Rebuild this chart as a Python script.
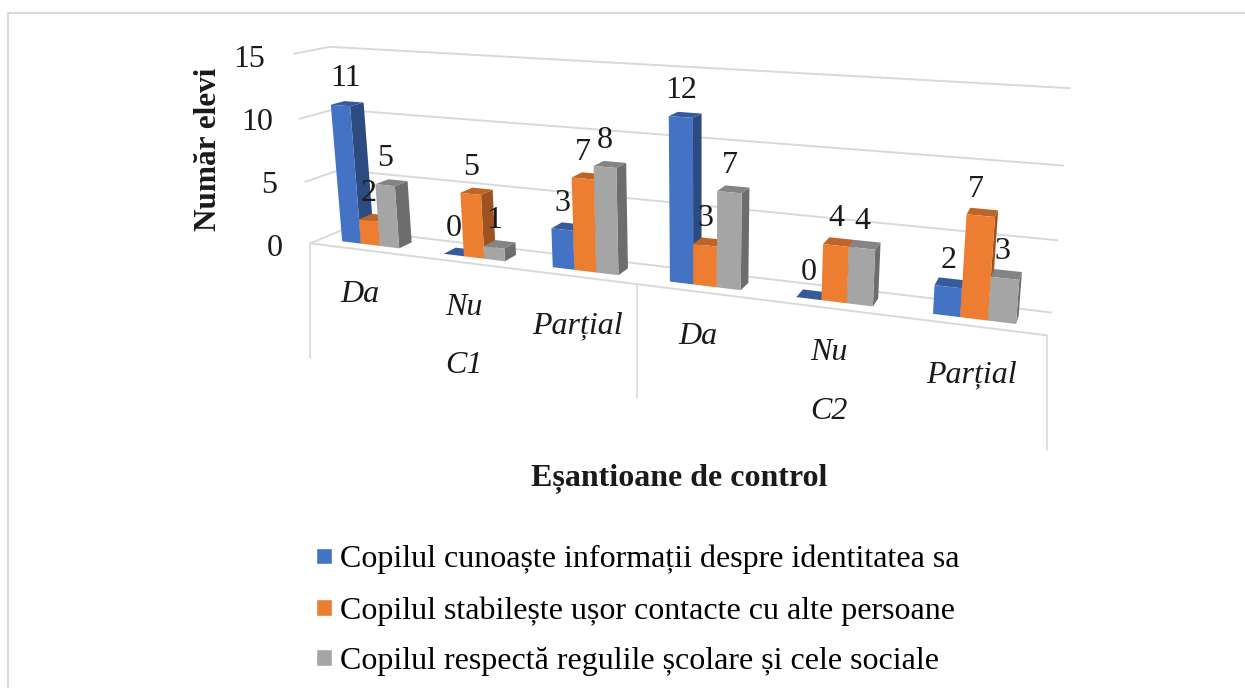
import numpy as np, pandas as pd, matplotlib
matplotlib.use("Agg")
import matplotlib.pyplot as plt, seaborn as sns
from matplotlib.transforms import Transform, IdentityTransform
from matplotlib.patches import Polygon, Rectangle
import matplotlib.colors as mc

W_PX, H_PX = 1245, 688
categories = ["C1 Da", "C1 Nu", "C1 Parțial", "C2 Da", "C2 Nu", "C2 Parțial"]
series_names = ["Copilul cunoaște informații despre identitatea sa",
                "Copilul stabilește ușor contacte cu alte persoane",
                "Copilul respectă regulile școlare și cele sociale"]
identitate = [11, 0, 3, 12, 0, 2]
contacte = [2, 5, 7, 3, 4, 7]
reguli = [5, 1, 8, 7, 4, 3]
colors = ["#4472C4", "#ED7D31", "#A5A5A5"]
value_ticks = [0, 5, 10, 15]

# Camera of the 3-D view: (category, depth, value/15, 1) -> image pixels / 1000
CAM = np.array([[0.087065, 0.049045, -0.029657, 0.310283],
                [0.003898, -0.004774, -0.191791, 0.243383],
                [-0.034072, 0.042613, -0.04236, 1.0]])
WIDTH, YF, YB = 0.57, 0.31, 0.70
LABEL_NUDGE = {0: 5, 16: -5, 17: -3}

def px(p):
    p = np.atleast_2d(np.asarray(p, float))
    q = np.c_[p[:, 0], p[:, 1], p[:, 2] / 15, np.ones(len(p))] @ CAM.T
    q = q[:, :2] / q[:, 2:] * 1000
    return np.c_[q[:, 0], H_PX - q[:, 1]]

class Persp(Transform):
    input_dims = output_dims = 2
    is_separable = False
    def __init__(self, yd):
        super().__init__(); self.yd = yd
    def transform_non_affine(self, xy):
        xy = np.asarray(xy, float)
        return px(np.c_[xy[:, 0] + .5, np.full(len(xy), self.yd), xy[:, 1]])

sns.set_theme(style="white")
plt.rcParams["font.family"] = ["Liberation Serif", "DejaVu Sans"]
plt.rcParams["text.color"] = "black"
df = pd.DataFrame({"cat": categories * 3, "val": identitate + contacte + reguli,
                   "ser": np.repeat(series_names, 6)})
fig = plt.figure(figsize=(W_PX / 100, H_PX / 100), dpi=100)
ax = fig.add_axes([0, 0, 1, 1])
sns.barplot(data=df, x="cat", y="val", hue="ser", palette=colors, width=WIDTH, gap=0, ax=ax,
            saturation=1, errorbar=None, legend=True, order=categories, hue_order=series_names)
ax.set_axis_off()
front = Persp(YF)
I = IdentityTransform()
GRID = "#D9D9D9"
fs = 23

def line(pts, lw=1.4):
    xy = px(pts)
    ax.plot(xy[:, 0], xy[:, 1], color=GRID, lw=lw, transform=I, zorder=1, solid_capstyle="butt")

for z in value_ticks:
    line([(0, 0, z), (0, 1, z), (6, 1, z)])
line([(0, 0, 0), (6, 0, 0)])
for X, yb in [(0, 358), (3, 398), (6, 450)]:
    q = px([(X, 0, 0)])[0]
    ax.plot([q[0], q[0]], [q[1], H_PX - yb], color=GRID, lw=1.2, transform=I, zorder=1)

rects = [b for b in ax.patches if isinstance(b, Rectangle)]
for r in rects:
    if r.get_width() < 1e-6:
        r.remove()
bars = sorted([r for r in rects if r.get_width() >= 1e-6], key=lambda r: r.get_x())
for k, r in enumerate(bars):
    x0, w, h = r.get_x() + .5, r.get_width(), r.get_height()
    c = np.array(mc.to_rgb(r.get_facecolor()))
    r.set_transform(front); r.set_zorder(2 + k); r.set_clip_on(False); r.set_linewidth(0)
    side = px([(x0 + w, YF, 0), (x0 + w, YB, 0), (x0 + w, YB, h), (x0 + w, YF, h)])
    top = px([(x0, YF, h), (x0 + w, YF, h), (x0 + w, YB, h), (x0, YB, h)])
    ax.add_patch(Polygon(side, transform=I, fc=c * .66, lw=0, zorder=2 + k - .5))
    ax.add_patch(Polygon(top, transform=I, fc=c * .8, lw=0, zorder=2 + k - .4))
    q = px([(x0 + w / 2, YF, h)])[0]
    ax.text(q[0] + LABEL_NUDGE.get(k, 0), q[1] + 26.5, f"{int(h)}", transform=I, ha="center",
            va="center", fontsize=fs, color="k", zorder=100)

def T(x, y, s, **k):
    ax.text(x, H_PX - y - 3.5, s, transform=I, ha="center", va="center", color="k", zorder=100, **k)

for s, x, y in [("15", 249, 56), ("10", 257, 119), ("5", 269, 182), ("0", 275, 245)]:
    T(x, y, s, fontsize=fs)
T(208, 146, "Număr elevi", fontsize=22.5, fontweight="bold", rotation=90)
T(679, 475, "Eșantioane de control", fontsize=fs, fontweight="bold")
for s, x, y in [("Da", 360, 291), ("Nu", 464, 304), ("C1", 464, 362), ("Parțial", 577, 322),
                ("Da", 698, 333), ("Nu", 829, 349), ("C2", 829, 408), ("Parțial", 971, 371)]:
    T(x, y, s, fontsize=fs, fontstyle="italic")
sns.move_legend(ax, "upper left", bbox_to_anchor=(316 / W_PX, 1 - 545 / H_PX),
                bbox_transform=fig.transFigure, title=None, frameon=False, fontsize=fs,
                handlelength=.5, handleheight=.43, handletextpad=.25, labelspacing=.675,
                borderpad=0, borderaxespad=0)
fig.add_artist(plt.Line2D([8 / W_PX, 8 / W_PX, 1], [0, 1 - 13 / H_PX, 1 - 13 / H_PX],
                          transform=fig.transFigure, color="#D9D9D9", lw=1.5))
fig.savefig("out.png", dpi=100)
